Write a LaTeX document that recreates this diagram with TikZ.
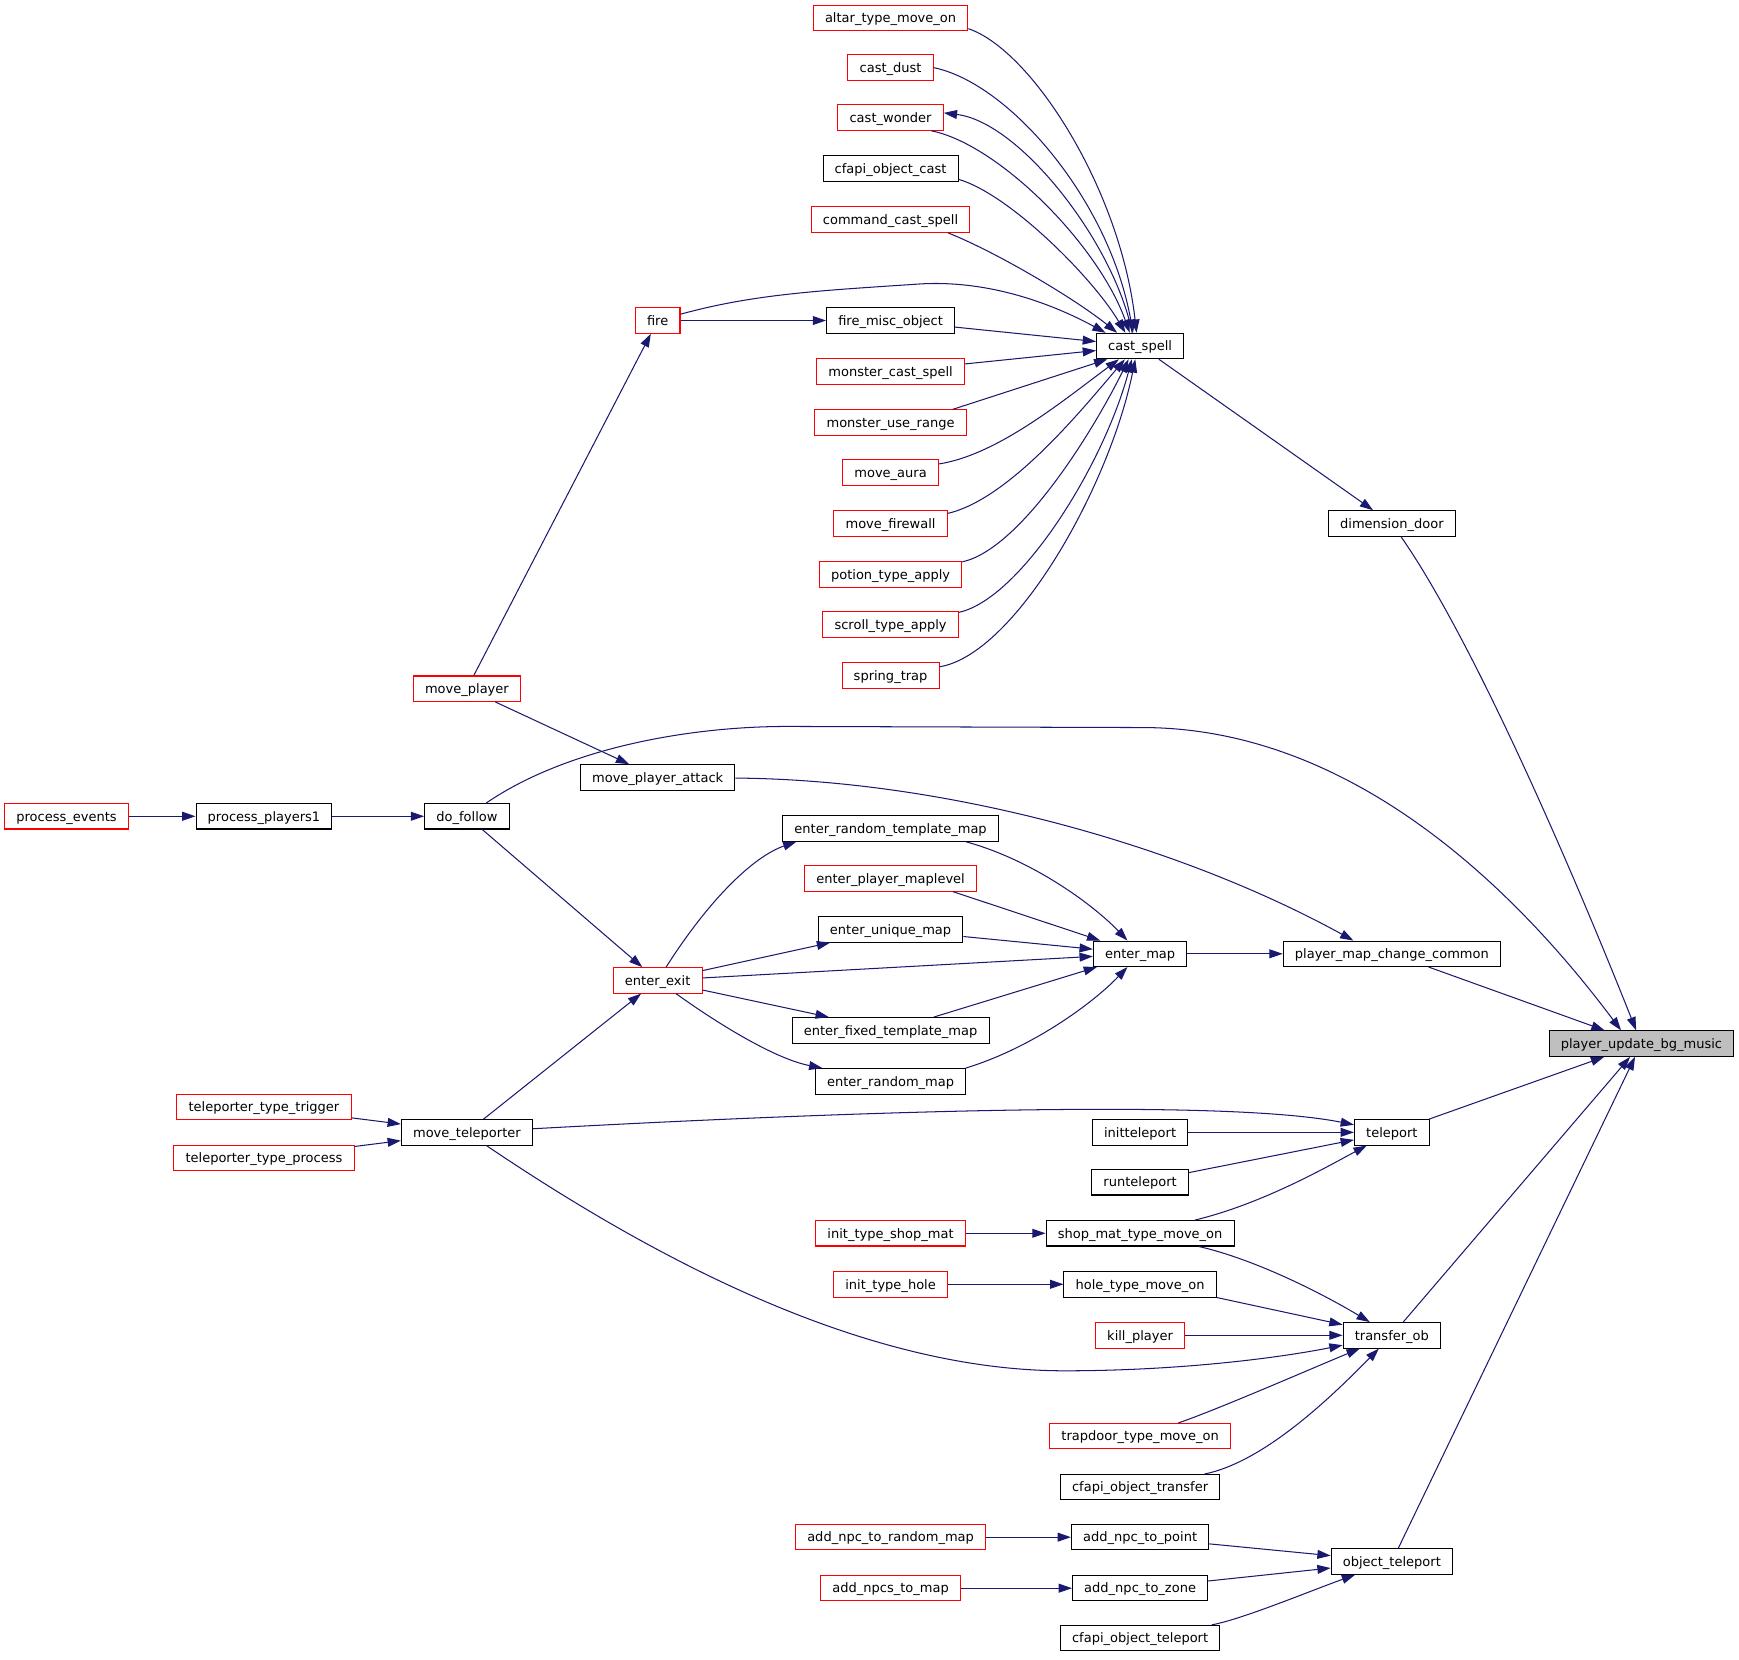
\documentclass[tikz,border=0pt]{standalone}
\usepackage{fontspec}
\setmainfont{DejaVu Sans}
\usepackage{tikz}
\usetikzlibrary{shapes,arrows.meta}
\usepackage{xcolor}
\definecolor{edgeblue}{HTML}{191970}
\definecolor{rootgray}{HTML}{BFBFBF}
\tikzset{
	fn/.style={draw=black, rectangle, line width=0.7pt, minimum height=17.2pt, inner xsep=7.9pt, inner ysep=0pt, text height=8.5pt, text depth=2.1pt, font=\fontsize{8.8pt}{10pt}\selectfont},
	fnred/.style={fn, draw=red},
	fnroot/.style={fn, fill=rootgray},
	call/.style={->, draw=edgeblue, line width=0.7pt},
	>={Triangle[length=9pt,width=6pt]}
}

\begin{document}
\begin{tikzpicture}[x=0.75pt, y=-0.75pt]
		\useasboundingbox (0,0) rectangle (1568,1496);
		\node[fnroot] (pubm) at (1480,941) {player\_update\_bg\_music};
		\node[fn] (dimdoor) at (1255,472) {dimension\_door};
		\node[fn] (pmcc) at (1255,860) {player\_map\_change\_common};
		\node[fn] (teleport) at (1255,1021) {teleport};
		\node[fn] (transferob) at (1255,1204) {transfer\_ob};
		\node[fn] (objtele) at (1255,1408) {object\_teleport};
		\node[fn] (castspell) at (1028,312) {cast\_spell};
		\node[fn] (entermap) at (1028,860) {enter\_map};
		\node[fn] (inittele) at (1028,1021) {initteleport};
		\node[fn] (runtele) at (1028,1066) {runteleport};
		\node[fn] (shopmat) at (1028,1112) {shop\_mat\_type\_move\_on};
		\node[fn] (hole) at (1028,1158) {hole\_type\_move\_on};
		\node[fnred] (killplayer) at (1028,1204) {kill\_player};
		\node[fnred] (trapdoor) at (1028,1295) {trapdoor\_type\_move\_on};
		\node[fn] (cfapitransfer) at (1028,1341) {cfapi\_object\_transfer};
		\node[fn] (npcpoint) at (1028,1386) {add\_npc\_to\_point};
		\node[fn] (npczone) at (1028,1432) {add\_npc\_to\_zone};
		\node[fn] (cfapitele) at (1028,1477) {cfapi\_object\_teleport};
		\node[fnred] (altar) at (803,16) {altar\_type\_move\_on};
		\node[fnred] (castdust) at (803,61) {cast\_dust};
		\node[fnred] (castwonder) at (803,106) {cast\_wonder};
		\node[fn] (cfapicast) at (803,152) {cfapi\_object\_cast};
		\node[fnred] (cmdcast) at (803,198) {command\_cast\_spell};
		\node[fn] (firemisc) at (803,289) {fire\_misc\_object};
		\node[fnred] (moncast) at (803,335) {monster\_cast\_spell};
		\node[fnred] (monrange) at (803,381) {monster\_use\_range};
		\node[fnred] (moveaura) at (803,426) {move\_aura};
		\node[fnred] (firewall) at (803,472) {move\_firewall};
		\node[fnred] (potion) at (803,518) {potion\_type\_apply};
		\node[fnred] (scroll) at (803,563) {scroll\_type\_apply};
		\node[fnred] (spring) at (803,609) {spring\_trap};
		\node[fn] (ertm) at (803,747) {enter\_random\_template\_map};
		\node[fnred] (epm) at (803,792) {enter\_player\_maplevel};
		\node[fn] (eum) at (803,838) {enter\_unique\_map};
		\node[fn] (eftm) at (803,929) {enter\_fixed\_template\_map};
		\node[fn] (erm) at (803,975) {enter\_random\_map};
		\node[fnred] (initshop) at (803,1112) {init\_type\_shop\_mat};
		\node[fnred] (inithole) at (803,1158) {init\_type\_hole};
		\node[fnred] (npcrandom) at (803,1386) {add\_npc\_to\_random\_map};
		\node[fnred] (npcsmap) at (803,1432) {add\_npcs\_to\_map};
		\node[fnred] (fire) at (593,289) {fire};
		\node[fn] (mpa) at (593,701) {move\_player\_attack};
		\node[fnred] (enterexit) at (593,884) {enter\_exit};
		\node[fnred] (moveplayer) at (421,621) {move\_player};
		\node[fn] (dofollow) at (421,736) {do\_follow};
		\node[fn] (moveteleporter) at (421,1021) {move\_teleporter};
		\node[fn] (pp1) at (238,736) {process\_players1};
		\node[fnred] (ttt) at (238,998) {teleporter\_type\_trigger};
		\node[fnred] (ttp) at (238,1044) {teleporter\_type\_process};
		\node[fnred] (procevents) at (60,736) {process\_events};

		\draw[call] (procevents) -- (pp1);
		\draw[call] (pp1) -- (dofollow);
		\draw[call] (ttt) -- (moveteleporter);
		\draw[call] (ttp) -- (moveteleporter);
		\draw[call] (moveplayer) -- (fire);
		\draw[call] (moveplayer) -- (mpa);
		\draw[call] (dofollow) -- (enterexit);
		\draw[call] (moveteleporter) -- (enterexit);
		\draw[call] (fire) -- (firemisc);
		\draw[call] (enterexit) -- (eum);
		\draw[call] (enterexit) -- (entermap);
		\draw[call] (enterexit) -- (eftm);
		\draw[call] (epm.-12.5) -- (entermap);
		\draw[call] (eum) -- (entermap);
		\draw[call] (eftm) -- (entermap);
		\draw[call] (firemisc) -- (castspell);
		\draw[call] (moncast) -- (castspell);
		\draw[call] (monrange.12) -- (castspell.202);
		\draw[call] (initshop) -- (shopmat);
		\draw[call] (inithole) -- (hole);
		\draw[call] (npcrandom) -- (npcpoint);
		\draw[call] (npcsmap) -- (npczone);
		\draw[call] (inittele) -- (teleport);
		\draw[call] (runtele) -- (teleport);
		\draw[call] (hole.south east) -- (transferob);
		\draw[call] (killplayer) -- (transferob);
		\draw[call] (npcpoint) -- (objtele);
		\draw[call] (npczone) -- (objtele);
		\draw[call] (entermap) -- (pmcc);
		\draw[call] (castspell) -- (dimdoor);
		\draw[call] (pmcc) -- (pubm);
		\draw[call] (teleport) -- (pubm);
		\draw[call] (transferob) -- (pubm);
		\draw[call] (objtele) -- (pubm);

		\draw[call] (dimdoor) .. controls (1330,580) and (1420,790) .. (pubm);
		\draw[call] (dofollow) .. controls (510,675) and (620,655) .. (710,655) -- (1030,656) .. controls (1230,656) and (1380,820) .. (pubm.147);
		\draw[call] (mpa) .. controls (850,703) and (1060,760) .. (pmcc.161);
		\draw[call] (moveteleporter) .. controls (750,1003) and (1100,990) .. (teleport);
		\draw[call] (shopmat) .. controls (1140,1085) and (1200,1050) .. (teleport);
		\draw[call] (shopmat) .. controls (1130,1135) and (1190,1165) .. (transferob);
		\draw[call] (moveteleporter) .. controls (637,1167) and (810,1236) .. (960,1236) .. controls (1060,1236) and (1150,1225) .. (transferob);
		\draw[call] (trapdoor) .. controls (1100,1270) and (1180,1235) .. (transferob);
		\draw[call] (cfapitransfer) .. controls (1140,1318) and (1200,1260) .. (transferob);
		\draw[call] (cfapitele) .. controls (1120,1460) and (1180,1435) .. (objtele);

		\draw[call] (ertm.-10) .. controls (930,775) and (985,815) .. (entermap);
		\draw[call] (erm.10) .. controls (930,945) and (985,905) .. (entermap);
		\draw[call] (enterexit) .. controls (640,810) and (680,772) .. (ertm.188);
		\draw[call] (enterexit) .. controls (650,925) and (700,955) .. (erm);

		\draw[call] (fire) .. controls (680,265) and (740,262) .. (830,256) .. controls (900,252) and (960,280) .. (castspell.159);
		\draw[call] (altar.-8) .. controls (930,45) and (1010,170) .. (castspell.105);
		\draw[call] (castdust.east) .. controls (910,75) and (1000,180) .. (castspell.118);
		\draw[call] (castwonder.-18) .. controls (900,130) and (990,220) .. (castspell.128);
		\draw[call] (castspell.121) .. controls (1005,220) and (920,110) .. (castwonder.5);
		\draw[call] (cfapicast.-9) .. controls (910,175) and (985,250) .. (castspell.138);
		\draw[call] (cmdcast.-13) .. controls (900,228) and (970,270) .. (castspell.150);
		\draw[call] (moveaura.10) .. controls (900,410) and (960,360) .. (castspell.212);
		\draw[call] (firewall.10) .. controls (910,450) and (975,370) .. (castspell.221);
		\draw[call] (potion.10) .. controls (920,495) and (985,390) .. (castspell.229);
		\draw[call] (scroll.10) .. controls (920,540) and (995,420) .. (castspell.238);
		\draw[call] (spring.10) .. controls (915,590) and (1000,440) .. (castspell.250);
\end{tikzpicture}
\end{document}
